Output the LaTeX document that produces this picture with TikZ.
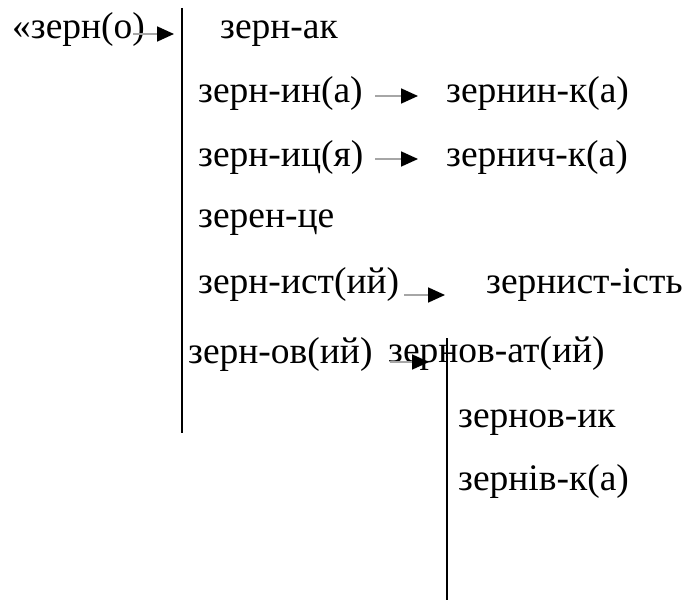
\documentclass[tikz,border=0pt]{standalone}
\usepackage{fontspec}
\setmainfont{Liberation Serif}
\usetikzlibrary{arrows.meta}
\begin{document}
\begin{tikzpicture}[x=1pt,y=-1pt,
  word/.style={anchor=base west,inner sep=0pt,font=\fontsize{37.5}{40}\selectfont},
  vline/.style={line width=1.4pt,black},
  derive/.style={line width=1.8pt,gray!70,-{Triangle[length=17pt,width=15pt,color=black]}}]
\useasboundingbox (0,0) rectangle (684,601);
% words
\node[word] (w0) at (12,39) {«зерн(о)};
\node[word] (w1) at (220,39) {зерн-ак};
\node[word] (w2) at (198,103) {зерн-ин(а)};
\node[word] (w3) at (446,103) {зернин-к(а)};
\node[word] (w4) at (198,167) {зерн-иц(я)};
\node[word] (w5) at (446,167) {зернич-к(а)};
\node[word] (w6) at (198,228) {зерен-це};
\node[word] (w7) at (198,293) {зерн-ист(ий)};
\node[word] (w8) at (486,293) {зернист-ість};
\node[word] (w9) at (188,363) {зерн-ов(ий)};
\node[word] (w10) at (388,362) {зернов-ат(ий)};
\node[word] (w11) at (458,427) {зернов-ик};
\node[word] (w12) at (458,490) {зернів-к(а)};
% brackets
\coordinate (l1t) at (182,8);
\coordinate (l1b) at (182,433);
\coordinate (l2t) at (447,338);
\coordinate (l2b) at (447,600);
\draw[vline] (l1t) -- (l1b);
\draw[vline] (l2t) -- (l2b);
% arrows
\coordinate (a0s) at (133,34); \coordinate (a0e) at (174,34);
\coordinate (a2s) at (375,96); \coordinate (a2e) at (418,96);
\coordinate (a4s) at (375,159); \coordinate (a4e) at (418,159);
\coordinate (a7s) at (404,295); \coordinate (a7e) at (445,295);
\coordinate (a9s) at (390,362); \coordinate (a9e) at (429,362);
\draw[derive] (a0s) -- (a0e);
\draw[derive] (a2s) -- (a2e);
\draw[derive] (a4s) -- (a4e);
\draw[derive] (a7s) -- (a7e);
\draw[derive] (a9s) -- (a9e);
\end{tikzpicture}
\end{document}
